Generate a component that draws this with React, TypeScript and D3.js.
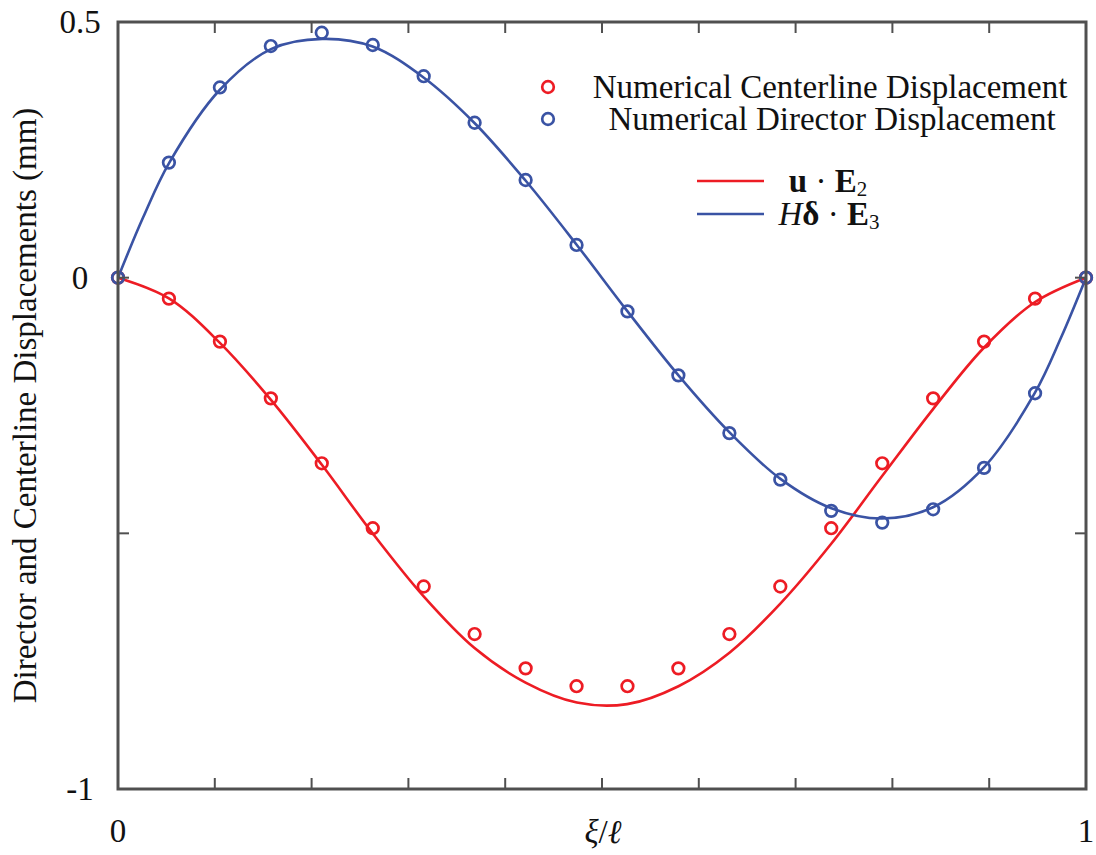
import React from "react";
import * as d3 from "d3";

// ---- data ----
const markerXi = [0, 0.0526, 0.1053, 0.1579, 0.2105, 0.2632, 0.3158, 0.3684, 0.4211, 0.4737,
  0.5263, 0.5789, 0.6316, 0.6842, 0.7368, 0.7895, 0.8421, 0.8947, 0.9474, 1];
const redMarkers = [0, -0.041, -0.125, -0.236, -0.363, -0.49, -0.604, -0.697, -0.764, -0.799,
  -0.799, -0.764, -0.697, -0.604, -0.49, -0.363, -0.236, -0.125, -0.041, 0];
const blueMarkers = [0, 0.225, 0.372, 0.453, 0.479, 0.455, 0.394, 0.303, 0.191, 0.064,
  -0.066, -0.191, -0.304, -0.395, -0.456, -0.479, -0.453, -0.372, -0.226, 0];

const redCurveXi = [0, 0.053, 0.105, 0.158, 0.211, 0.263, 0.316, 0.368, 0.421, 0.474,
  0.526, 0.579, 0.632, 0.684, 0.737, 0.789, 0.842, 0.894, 0.947, 1];
const redCurveV = [0, -0.041, -0.127, -0.239, -0.367, -0.5, -0.624, -0.724, -0.792, -0.831,
  -0.834, -0.799, -0.733, -0.638, -0.52, -0.389, -0.257, -0.138, -0.048, 0];

const blueCurveXi = [0, 0.026, 0.053, 0.105, 0.158, 0.211, 0.263, 0.316, 0.368, 0.421, 0.474,
  0.526, 0.579, 0.632, 0.684, 0.737, 0.789, 0.842, 0.895, 0.947, 0.974, 1];
const blueCurveV = [0, 0.118, 0.225, 0.367, 0.447, 0.467, 0.452, 0.391, 0.303, 0.19, 0.064,
  -0.065, -0.191, -0.303, -0.393, -0.451, -0.471, -0.449, -0.37, -0.226, -0.118, 0];

const xTickValues = [0, 0.1, 0.2, 0.3, 0.4, 0.5, 0.6, 0.7, 0.8, 0.9, 1];
const xTickLabels = [{ v: 0, t: "0" }, { v: 1, t: "1" }];
const yTickValues = [0.5, 0, -0.5, -1];
const yTickLabels = [{ v: 0.5, t: "0.5" }, { v: 0, t: "0" }, { v: -1, t: "-1" }];

const legendMarkerLabels = ["Numerical Centerline Displacement", "Numerical Director Displacement"];

const RED = "#ED1C24";
const BLUE = "#3A53A4";
const FRAME = "#505050";
const FONT = "'Liberation Serif', 'Times New Roman', serif";

export default function App() {
  const W = 1096, H = 855;
  const L = 118, R = 1086, T = 22, B = 789;
  const x = d3.scaleLinear().domain([0, 1]).range([L, R]);
  const y = d3.scaleLinear().domain([-1, 0.5]).range([B, T]);

  const line = d3.line<[number, number]>()
    .x(d => x(d[0]))
    .y(d => y(d[1]))
    .curve(d3.curveCatmullRom.alpha(0.5));

  const redPath = line(redCurveXi.map((v, i) => [v, redCurveV[i]]))!;
  const bluePath = line(blueCurveXi.map((v, i) => [v, blueCurveV[i]]))!;

  const tickLen = 11;
  const fs = 33;
  const mr = 5.8;

  return (
    <svg width={W} height={H} style={{ position: "absolute", left: 0, top: 0, display: "block", background: "#fff" }}
      fontFamily={FONT}>
      <rect x={0} y={0} width={W} height={H} fill="#fff" />
      {/* curves */}
      <path d={redPath} fill="none" stroke={RED} strokeWidth={2.6} />
      <path d={bluePath} fill="none" stroke={BLUE} strokeWidth={2.6} />
      {/* markers */}
      {markerXi.map((xi, i) => (
        <circle key={"r" + i} cx={x(xi)} cy={y(redMarkers[i])} r={mr} fill="none" stroke={RED} strokeWidth={2.7} />
      ))}
      {markerXi.map((xi, i) => (
        <circle key={"b" + i} cx={x(xi)} cy={y(blueMarkers[i])} r={mr} fill="none" stroke={BLUE} strokeWidth={2.7} />
      ))}

      {/* ticks */}
      {xTickValues.map((v, i) => (
        <g key={"xt" + i}>
          <line x1={x(v)} x2={x(v)} y1={B} y2={B - tickLen} stroke={FRAME} strokeWidth={2} />
          <line x1={x(v)} x2={x(v)} y1={T} y2={T + tickLen} stroke={FRAME} strokeWidth={2} />
        </g>
      ))}
      {yTickValues.map((v, i) => (
        <g key={"yt" + i}>
          <line x1={L} x2={L + tickLen} y1={y(v)} y2={y(v)} stroke={FRAME} strokeWidth={2} />
          <line x1={R} x2={R - tickLen} y1={y(v)} y2={y(v)} stroke={FRAME} strokeWidth={2} />
        </g>
      ))}
      {/* frame */}
      <rect x={L} y={T} width={R - L} height={B - T} fill="none" stroke={FRAME} strokeWidth={3} />

      {/* tick labels */}
      {xTickLabels.map((d, i) => (
        <text key={"xl" + i} x={x(d.v)} y={842} textAnchor="middle" fontSize={fs} fill="#111">{d.t}</text>
      ))}
      {yTickLabels.map((d, i) => (
        <text key={"yl" + i} x={80} y={y(d.v) + 11} textAnchor="middle" fontSize={fs} fill="#111">{d.t}</text>
      ))}

      {/* axis titles */}
      <text x={603} y={843} textAnchor="middle" fontSize={fs} fill="#111">
        <tspan fontStyle="italic">ξ</tspan>/<tspan fontStyle="italic">ℓ</tspan>
      </text>
      <text transform={`translate(36, ${(T + B) / 2}) rotate(-90)`} textAnchor="middle" fontSize={fs} fill="#111">
        Director and Centerline Displacements (mm)
      </text>

      {/* legend 1: markers */}
      <circle cx={548} cy={87} r={mr} fill="none" stroke={RED} strokeWidth={2.7} />
      <circle cx={548} cy={119} r={mr} fill="none" stroke={BLUE} strokeWidth={2.7} />
      <text x={830} y={87 + 11} textAnchor="middle" fontSize={fs} fill="#111">{legendMarkerLabels[0]}</text>
      <text x={832} y={119 + 11} textAnchor="middle" fontSize={fs} fill="#111">{legendMarkerLabels[1]}</text>

      {/* legend 2: lines */}
      <line x1={697} x2={764} y1={181} y2={181} stroke={RED} strokeWidth={2.6} />
      <line x1={697} x2={764} y1={214} y2={214} stroke={BLUE} strokeWidth={2.6} />
      <text x={828} y={181 + 11} textAnchor="middle" fontSize={fs} fill="#111">
        <tspan fontWeight="bold">u</tspan>
        <tspan> · </tspan>
        <tspan fontWeight="bold">E</tspan>
        <tspan fontSize={21} dy={4}>2</tspan>
      </text>
      <text x={829} y={214 + 11} textAnchor="middle" fontSize={fs} fill="#111">
        <tspan fontStyle="italic">H</tspan>
        <tspan fontWeight="bold">δ</tspan>
        <tspan> · </tspan>
        <tspan fontWeight="bold">E</tspan>
        <tspan fontSize={21} dy={4}>3</tspan>
      </text>
    </svg>
  );
}
